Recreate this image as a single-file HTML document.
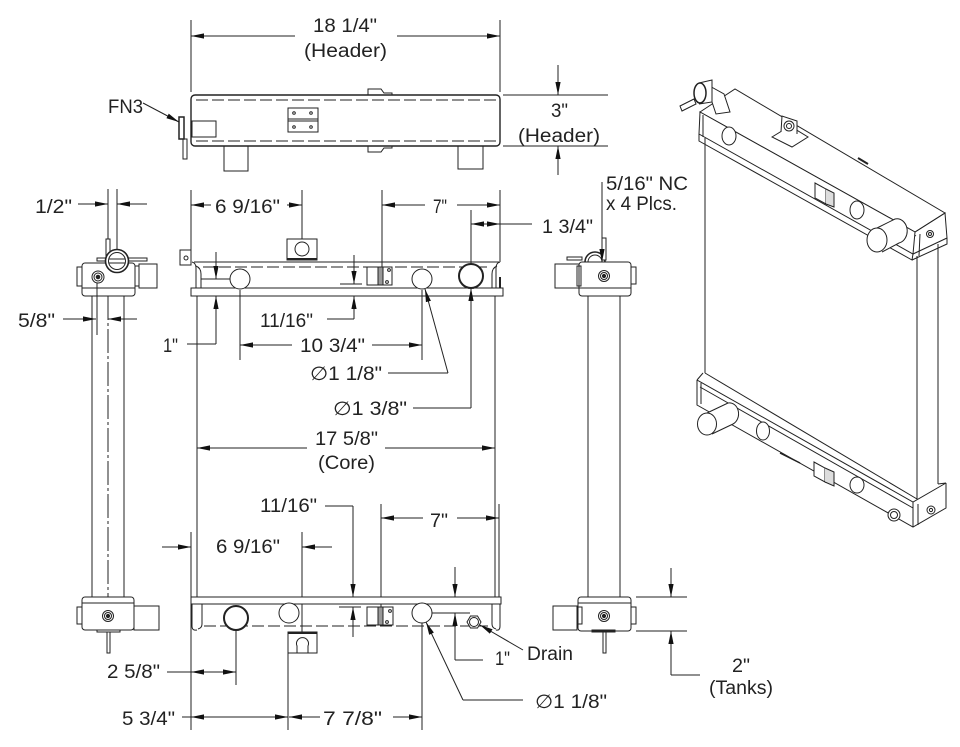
<!DOCTYPE html>
<html><head><meta charset="utf-8"><style>
html,body{margin:0;padding:0;background:#fff;}
svg{display:block;}
text{font-family:"Liberation Sans","DejaVu Sans",sans-serif;font-size:19px;fill:#222;}
</style></head><body>
<svg width="960" height="747" viewBox="0 0 960 747" xmlns="http://www.w3.org/2000/svg">
<defs>
<marker id="a" markerWidth="13" markerHeight="6" refX="13" refY="3" orient="auto" markerUnits="userSpaceOnUse">
<path d="M0,0.4 L13,3 L0,5.6 z" fill="#111"/>
</marker>
</defs>
<rect width="960" height="747" fill="#fff"/>
<g fill="none" stroke="#222" stroke-width="1">

<!-- ===== TOP VIEW ===== -->
<line x1="191" y1="20" x2="191" y2="92"/>
<line x1="500" y1="20" x2="500" y2="92"/>
<line x1="295" y1="36" x2="191" y2="36" marker-end="url(#a)"/>
<line x1="397" y1="36" x2="500" y2="36" marker-end="url(#a)"/>
<path d="M368,95 V89 H381 L384,93 H392 V95"/>
<path d="M368,146 V152 H381 L384,148 H392 V146"/>
<rect x="191" y="95" width="309" height="51" rx="4" stroke-width="1.4"/>
<line x1="196" y1="100" x2="496" y2="100" stroke-dasharray="12,4"/>
<line x1="196" y1="141" x2="496" y2="141" stroke-dasharray="12,4"/>
<rect x="288" y="108" width="30" height="24"/>
<line x1="288" y1="119" x2="318" y2="119"/><line x1="288" y1="121" x2="318" y2="121"/>
<circle cx="294" cy="113" r="1.3"/><circle cx="311" cy="113" r="1.3"/>
<circle cx="294" cy="127" r="1.3"/><circle cx="311" cy="127" r="1.3"/>
<rect x="192" y="121" width="24" height="16"/>
<rect x="179" y="117" width="5" height="22" stroke-width="1.5"/>
<rect x="183" y="139" width="4" height="20"/>
<rect x="224" y="146" width="24" height="25"/>
<rect x="458" y="146" width="25" height="23"/>
<line x1="143" y1="103" x2="179" y2="122" marker-end="url(#a)"/>
<line x1="503" y1="95" x2="608" y2="95"/>
<line x1="503" y1="146" x2="608" y2="146"/>
<line x1="558" y1="65" x2="558" y2="95" marker-end="url(#a)"/>
<line x1="558" y1="175" x2="558" y2="146" marker-end="url(#a)"/>

<!-- ===== LEFT SIDE VIEW ===== -->
<line x1="108" y1="189" x2="108" y2="240"/>
<line x1="117" y1="189" x2="117" y2="250"/>
<line x1="78" y1="204" x2="108" y2="204" marker-end="url(#a)"/>
<line x1="147" y1="204" x2="117" y2="204" marker-end="url(#a)"/>
<line x1="92" y1="296" x2="92" y2="597"/>
<line x1="124" y1="296" x2="124" y2="597"/>
<line x1="108" y1="296" x2="108" y2="597" stroke-dasharray="24,3,3,3"/>
<rect x="97" y="258" width="50" height="3"/>
<rect x="82" y="263" width="53" height="33" rx="3" fill="#fff"/>
<line x1="82" y1="288" x2="135" y2="288"/>
<rect x="77" y="267" width="5" height="19"/>
<rect x="135" y="266" width="4" height="20"/>
<rect x="139" y="264" width="18" height="24"/>
<rect x="106" y="239" width="4" height="18" fill="#fff"/>
<circle cx="117" cy="261" r="11.5" fill="#fff" stroke-width="1.6"/>
<circle cx="117" cy="261" r="8.5"/>
<line x1="109" y1="259" x2="125" y2="259"/><line x1="109" y1="263" x2="125" y2="263"/>
<circle cx="98" cy="277" r="6"/><circle cx="98" cy="277" r="4"/><circle cx="98" cy="277" r="1.8" fill="#222"/>
<line x1="63" y1="319" x2="96" y2="319" marker-end="url(#a)"/>
<line x1="137" y1="319" x2="108" y2="319" marker-end="url(#a)"/>
<line x1="97" y1="283" x2="97" y2="335"/>
<rect x="82" y="597" width="52" height="33" rx="3" fill="#fff"/>
<line x1="82" y1="603" x2="134" y2="603"/>
<rect x="77" y="607" width="5" height="17"/>
<rect x="134" y="606" width="25" height="24"/>
<circle cx="108" cy="616" r="5.5"/><circle cx="108" cy="616" r="3.5"/><circle cx="108" cy="616" r="1.6" fill="#222"/>
<rect x="97" y="630" width="23" height="2"/>
<rect x="107" y="632" width="3" height="21"/>

<!-- ===== FRONT VIEW TOP ===== -->
<line x1="191" y1="190" x2="191" y2="250"/>
<line x1="211" y1="205" x2="191" y2="205" marker-end="url(#a)"/>
<line x1="287" y1="205" x2="302" y2="205" marker-end="url(#a)"/>
<line x1="302" y1="190" x2="302" y2="242"/>
<line x1="382" y1="190" x2="382" y2="267"/>
<line x1="425" y1="205" x2="382" y2="205" marker-end="url(#a)"/>
<line x1="457" y1="205" x2="500" y2="205" marker-end="url(#a)"/>
<line x1="500" y1="190" x2="500" y2="262"/>
<line x1="471" y1="210" x2="471" y2="264"/>
<line x1="486" y1="224" x2="471" y2="224" marker-end="url(#a)"/>
<line x1="486" y1="224" x2="500" y2="224" marker-end="url(#a)"/>
<line x1="500" y1="224" x2="532" y2="224"/>

<rect x="191" y="288" width="312" height="8" fill="#fff"/>
<line x1="194" y1="262" x2="499" y2="262"/>
<path d="M196,288 V268 Q196,263 192,262"/>
<path d="M201,288 V274 Q201,268 196,266"/>
<path d="M496,288 V268 Q496,263 500,262"/>
<path d="M492,288 V274 Q492,268 497,266"/>
<line x1="500" y1="277" x2="500" y2="288" stroke-width="2"/>
<line x1="203" y1="267" x2="490" y2="267" stroke-dasharray="12,4"/>
<rect x="180" y="250" width="11" height="15"/>
<circle cx="186" cy="258" r="2"/>
<rect x="287" y="239" width="30" height="21" fill="#fff"/>
<line x1="287" y1="259" x2="317" y2="259" stroke-width="2"/>
<circle cx="302" cy="249" r="7"/>
<circle cx="240" cy="279" r="10" fill="#fff"/>
<circle cx="422" cy="279" r="10" fill="#fff"/>
<circle cx="471" cy="276" r="12" fill="#fff" stroke-width="2"/>
<rect x="367" y="267" width="25" height="18" fill="#fff"/>
<rect x="378" y="267" width="5" height="18" fill="#999"/>
<circle cx="389" cy="270" r="1.4"/><circle cx="387" cy="282" r="1.4"/>

<line x1="216" y1="252" x2="216" y2="279" marker-end="url(#a)"/>
<line x1="201" y1="279" x2="230" y2="279"/>
<line x1="216" y1="344" x2="216" y2="296" marker-end="url(#a)"/>
<line x1="187" y1="344" x2="216" y2="344"/>

<line x1="354" y1="255" x2="354" y2="284" marker-end="url(#a)"/>
<line x1="340" y1="284" x2="362" y2="284"/>
<line x1="354" y1="319" x2="354" y2="296" marker-end="url(#a)"/>
<line x1="327" y1="319" x2="354" y2="319"/>

<line x1="240" y1="290" x2="240" y2="360"/>
<line x1="422" y1="290" x2="422" y2="360"/>
<line x1="292" y1="345" x2="240" y2="345" marker-end="url(#a)"/>
<line x1="372" y1="345" x2="422" y2="345" marker-end="url(#a)"/>
<line x1="388" y1="373" x2="448" y2="373"/>
<line x1="448" y1="373" x2="425" y2="289" marker-end="url(#a)"/>
<line x1="413" y1="408" x2="471" y2="408"/>
<line x1="471" y1="408" x2="471" y2="288" marker-end="url(#a)"/>

<!-- core -->
<line x1="197" y1="296" x2="197" y2="597"/>
<line x1="495" y1="296" x2="495" y2="597"/>
<line x1="307" y1="448" x2="197" y2="448" marker-end="url(#a)"/>
<line x1="385" y1="448" x2="495" y2="448" marker-end="url(#a)"/>

<!-- ===== FRONT VIEW BOTTOM ===== -->
<line x1="325" y1="506" x2="353" y2="506"/>
<line x1="353" y1="506" x2="353" y2="597" marker-end="url(#a)"/>
<line x1="339" y1="607" x2="361" y2="607"/>
<line x1="353" y1="637" x2="353" y2="607" marker-end="url(#a)"/>
<line x1="381" y1="504" x2="381" y2="607"/>
<line x1="499" y1="504" x2="499" y2="597"/>
<line x1="423" y1="518" x2="381" y2="518" marker-end="url(#a)"/>
<line x1="457" y1="518" x2="499" y2="518" marker-end="url(#a)"/>
<line x1="191" y1="532" x2="191" y2="730"/>
<line x1="162" y1="547" x2="191" y2="547" marker-end="url(#a)"/>
<line x1="332" y1="547" x2="302" y2="547" marker-end="url(#a)"/>
<line x1="302" y1="532" x2="302" y2="632"/>

<rect x="191" y="597" width="310" height="7" fill="#fff"/>
<path d="M192,604 V626 Q192,631 197,630"/>
<path d="M202,604 V624 Q202,628 198,629"/>
<path d="M500,604 V626 Q500,631 496,630"/>
<path d="M492,604 V624 Q492,628 496,629"/>
<line x1="204" y1="626" x2="490" y2="626" stroke-dasharray="12,4"/>
<circle cx="236" cy="618" r="12" fill="#fff" stroke-width="2"/>
<circle cx="289" cy="613" r="10" fill="#fff"/>
<circle cx="422" cy="613" r="10" fill="#fff"/>
<rect x="288" y="632" width="29" height="21" fill="#fff"/>
<line x1="288" y1="633" x2="317" y2="633" stroke-width="2"/>
<path d="M297,653 V646 A6,6 0 1 1 308,646 V653"/>
<rect x="367" y="607" width="26" height="18" fill="#fff"/>
<rect x="378" y="607" width="5" height="18" fill="#999"/>
<circle cx="390" cy="611" r="1.4"/><circle cx="387" cy="622" r="1.4"/>
<polygon points="481,622 477.5,628 470.5,628 467,622 470.5,616 477.5,616" fill="#fff"/>
<circle cx="474" cy="622" r="4.5"/>

<line x1="432" y1="613" x2="470" y2="613"/>
<line x1="455" y1="567" x2="455" y2="597" marker-end="url(#a)"/>
<line x1="455" y1="660" x2="455" y2="613" marker-end="url(#a)"/>
<line x1="455" y1="660" x2="483" y2="660"/>
<line x1="523" y1="650" x2="480" y2="625" marker-end="url(#a)"/>
<line x1="523" y1="700" x2="463" y2="700"/>
<line x1="463" y1="700" x2="426" y2="622" marker-end="url(#a)"/>

<line x1="236" y1="630" x2="236" y2="685"/>
<line x1="167" y1="672" x2="191" y2="672"/>
<line x1="213" y1="672" x2="191" y2="672" marker-end="url(#a)"/>
<line x1="213" y1="672" x2="236" y2="672" marker-end="url(#a)"/>
<line x1="288" y1="653" x2="288" y2="730"/>
<line x1="422" y1="623" x2="422" y2="730"/>
<line x1="182" y1="717" x2="191" y2="717"/>
<line x1="240" y1="717" x2="191" y2="717" marker-end="url(#a)"/>
<line x1="240" y1="717" x2="288" y2="717" marker-end="url(#a)"/>
<line x1="320" y1="717" x2="289" y2="717" marker-end="url(#a)"/>
<line x1="393" y1="717" x2="422" y2="717" marker-end="url(#a)"/>

<!-- ===== RIGHT SIDE VIEW ===== -->
<line x1="588" y1="296" x2="588" y2="597"/>
<line x1="620" y1="296" x2="620" y2="597"/>
<rect x="567" y="257" width="15" height="3"/>
<path d="M585,262 A10,10 0 0 1 605,262" stroke-width="1.5"/>
<path d="M588,262 A7,7 0 0 1 602,262"/>
<rect x="579" y="262" width="52" height="34" rx="3" fill="#fff"/>
<line x1="579" y1="288" x2="631" y2="288"/>
<rect x="555" y="264" width="24" height="24" fill="#fff"/>
<rect x="577" y="266" width="4" height="20"/>
<rect x="631" y="267" width="5" height="17"/>
<rect x="602" y="238" width="4" height="22" fill="#fff"/>
<circle cx="604" cy="276" r="5.5"/><circle cx="604" cy="276" r="3.5"/><circle cx="604" cy="276" r="1.6" fill="#222"/>
<line x1="602" y1="182" x2="602" y2="262" marker-end="url(#a)"/>

<rect x="578" y="597" width="53" height="34" rx="3" fill="#fff"/>
<line x1="578" y1="603" x2="631" y2="603"/>
<rect x="553" y="606" width="24" height="24"/>
<rect x="577" y="607" width="5" height="17"/>
<rect x="631" y="607" width="5" height="17"/>
<circle cx="604" cy="616" r="5.5"/><circle cx="604" cy="616" r="3.5"/><circle cx="604" cy="616" r="1.6" fill="#222"/>
<rect x="592" y="630" width="23" height="2"/>
<rect x="603" y="632" width="3" height="21"/>
<line x1="636" y1="597" x2="687" y2="597"/>
<line x1="636" y1="631" x2="687" y2="631"/>
<line x1="671" y1="568" x2="671" y2="597" marker-end="url(#a)"/>
<line x1="671" y1="675" x2="671" y2="631" marker-end="url(#a)"/>
<line x1="671" y1="675" x2="700" y2="675"/>

<!-- ===== ISOMETRIC ===== -->
<!-- core -->
<line x1="705" y1="138" x2="705" y2="373"/>
<line x1="917" y1="256" x2="917" y2="499"/>
<line x1="938" y1="244" x2="938" y2="484"/>
<!-- top tank -->
<path d="M700,112 L735,89 L945,213 L915,232 Z" fill="#fff"/>
<line x1="704" y1="116" x2="916" y2="236"/>
<path d="M700,112 L915,232 L913,254 L699,134 Z" fill="#fff"/>
<path d="M699,134 L699,141 L912,260 L913,254"/>
<path d="M915,232 L945,213 L947,238 L947,244 L912,260"/>
<line x1="920" y1="234" x2="919" y2="256"/>
<line x1="913" y1="254" x2="947" y2="238"/>
<line x1="703" y1="115" x2="703" y2="137"/>
<circle cx="930" cy="234" r="3.5"/><circle cx="930" cy="234" r="1.5"/>
<ellipse cx="729" cy="136" rx="7" ry="9" fill="#fff"/>
<ellipse cx="857" cy="210" rx="7" ry="9" fill="#fff"/>
<path d="M815,183 L826,189 L826,204 L815,198 Z" fill="#fff"/>
<path d="M826,189 L834,193 L834,207 L826,204" fill="#ddd"/>
<path d="M772,137 L790,126 L808,137 L792,147 Z" fill="#fff"/>
<path d="M781,132 L782,116 L797,121 L797,134" fill="#fff"/>
<circle cx="789" cy="126" r="5"/><circle cx="789" cy="126" r="2.5"/>
<line x1="858" y1="158" x2="868" y2="164" stroke-width="2"/>
<path d="M877,228 L895,219 A10,12 0 0 1 899,243 L882,252" fill="#fff"/>
<ellipse cx="877" cy="240" rx="10" ry="12" fill="#fff"/>
<!-- filler / cap -->
<path d="M706,84 L724,94 L730,112 L716,114 Z" fill="#fff"/>
<path d="M699,83 L712,80 L712,102 L699,104" fill="#fff"/>
<ellipse cx="700" cy="93" rx="6" ry="10" fill="#fff" stroke-width="1.5"/>
<path d="M680,106 L694,99 L696,104 L682,111 Z" fill="#fff"/>
<!-- bottom tank -->
<line x1="705" y1="373" x2="917" y2="499"/>
<line x1="697" y1="380" x2="703" y2="373"/>
<path d="M697,380 L913,502 L946,483 L938,484"/>
<path d="M697,380 V405 L913,527 L946,508 V483"/>
<line x1="913" y1="502" x2="913" y2="527"/>
<line x1="701" y1="383" x2="701" y2="404"/>
<line x1="700" y1="387" x2="913" y2="508"/>
<line x1="918" y1="504" x2="918" y2="525"/>
<circle cx="931" cy="510" r="4"/><circle cx="931" cy="510" r="1.6"/>
<ellipse cx="763" cy="431" rx="6.5" ry="9" fill="#fff"/>
<ellipse cx="857" cy="485" rx="7" ry="8" fill="#fff"/>
<path d="M814,462 L825,468 L825,482 L814,476 Z" fill="#fff"/>
<path d="M825,468 L834,472 L834,486 L825,482" fill="#ddd"/>
<circle cx="894" cy="515" r="6" fill="#fff"/><circle cx="894" cy="515" r="3.5"/>
<line x1="780" y1="453" x2="800" y2="463" stroke-width="1.5"/>
<path d="M707,413 L728,403 A9,11 0 0 1 733,424 L712,434" fill="#fff"/>
<ellipse cx="707" cy="424" rx="9.5" ry="11" fill="#fff"/>
</g>

<!-- ===== TEXT ===== -->
<text x="313" y="32" textLength="64" lengthAdjust="spacingAndGlyphs">18 1/4"</text>
<text x="304" y="57" textLength="83" lengthAdjust="spacingAndGlyphs">(Header)</text>
<text x="108" y="113" textLength="35" lengthAdjust="spacingAndGlyphs">FN3</text>
<text x="551" y="117" textLength="17" lengthAdjust="spacingAndGlyphs">3"</text>
<text x="518" y="142" textLength="82" lengthAdjust="spacingAndGlyphs">(Header)</text>
<text x="35" y="213" textLength="37" lengthAdjust="spacingAndGlyphs">1/2"</text>
<text x="215" y="213" textLength="65" lengthAdjust="spacingAndGlyphs">6 9/16"</text>
<text x="433" y="213" textLength="14" lengthAdjust="spacingAndGlyphs">7"</text>
<text x="542" y="233" textLength="51" lengthAdjust="spacingAndGlyphs">1 3/4"</text>
<text x="606" y="190" textLength="82" lengthAdjust="spacingAndGlyphs">5/16" NC</text>
<text x="606" y="210" textLength="71" lengthAdjust="spacingAndGlyphs">x 4 Plcs.</text>
<text x="18" y="327" textLength="37" lengthAdjust="spacingAndGlyphs">5/8"</text>
<text x="163" y="352" textLength="15" lengthAdjust="spacingAndGlyphs">1"</text>
<text x="260" y="327" textLength="53" lengthAdjust="spacingAndGlyphs">11/16"</text>
<text x="300" y="352" textLength="65" lengthAdjust="spacingAndGlyphs">10 3/4"</text>
<text x="310" y="380" textLength="72" lengthAdjust="spacingAndGlyphs">∅1 1/8"</text>
<text x="333" y="415" textLength="74" lengthAdjust="spacingAndGlyphs">∅1 3/8"</text>
<text x="315" y="445" textLength="63" lengthAdjust="spacingAndGlyphs">17 5/8"</text>
<text x="318" y="469" textLength="57" lengthAdjust="spacingAndGlyphs">(Core)</text>
<text x="260" y="512" textLength="57" lengthAdjust="spacingAndGlyphs">11/16"</text>
<text x="430" y="527" textLength="18" lengthAdjust="spacingAndGlyphs">7"</text>
<text x="216" y="553" textLength="64" lengthAdjust="spacingAndGlyphs">6 9/16"</text>
<text x="527" y="660" textLength="46" lengthAdjust="spacingAndGlyphs">Drain</text>
<text x="495" y="665" textLength="15" lengthAdjust="spacingAndGlyphs">1"</text>
<text x="107" y="678" textLength="53" lengthAdjust="spacingAndGlyphs">2 5/8"</text>
<text x="535" y="708" textLength="72" lengthAdjust="spacingAndGlyphs">∅1 1/8"</text>
<text x="122" y="725" textLength="53" lengthAdjust="spacingAndGlyphs">5 3/4"</text>
<text x="323" y="725" textLength="59" lengthAdjust="spacingAndGlyphs">7 7/8"</text>
<text x="732" y="672" textLength="18" lengthAdjust="spacingAndGlyphs">2"</text>
<text x="709" y="694" textLength="64" lengthAdjust="spacingAndGlyphs">(Tanks)</text>
</svg>
</body></html>
